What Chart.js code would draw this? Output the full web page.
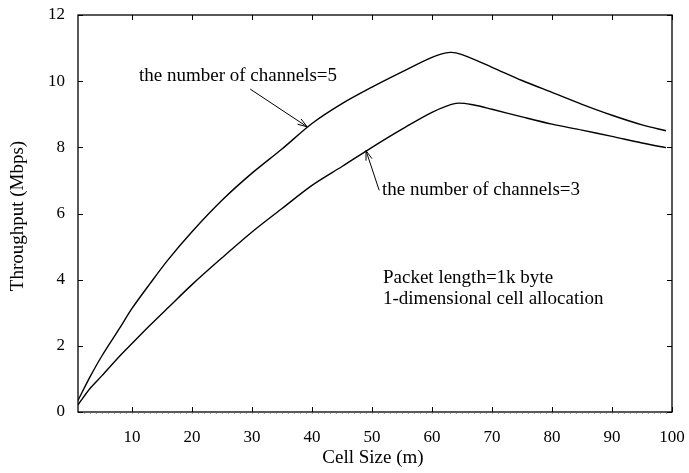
<!DOCTYPE html>
<html>
<head>
<meta charset="utf-8">
<script src="https://cdn.jsdelivr.net/npm/chart.js@4/dist/chart.umd.min.js"></script>
<style>
  html, body { margin:0; padding:0; background:#fff; }
  #wrap { width:689px; height:473px; position:relative; }
</style>
</head>
<body>
<div id="wrap"><canvas id="chart"></canvas></div>
<script>
// cell size (m)
const cellSize = [1, 3, 5, 8, 10, 13, 16, 20, 25, 30, 35, 40, 45, 50, 55, 60, 63, 65, 70, 75, 80, 85, 90, 95, 99];
// throughput (Mbps)
const ch5 = [0.35, 1.06, 1.70, 2.55, 3.13, 3.88, 4.60, 5.45, 6.40, 7.22, 7.95, 8.72, 9.32, 9.82, 10.28, 10.72, 10.87, 10.80, 10.42, 10.02, 9.66, 9.30, 8.97, 8.68, 8.50];
const cellSize3 = [1, 3, 5, 8, 10, 13, 16, 20, 25, 30, 35, 40, 45, 50, 55, 60, 64, 67, 70, 75, 80, 85, 90, 95, 99];
const ch3 = [0.22, 0.71, 1.10, 1.70, 2.07, 2.62, 3.15, 3.85, 4.66, 5.44, 6.15, 6.85, 7.42, 8.00, 8.55, 9.06, 9.33, 9.28, 9.15, 8.92, 8.70, 8.52, 8.33, 8.13, 7.99];
const xTicks = [10, 20, 30, 40, 50, 60, 70, 80, 90, 100];
const yTicks = [0, 2, 4, 6, 8, 10, 12];

const FONT = "'Liberation Serif', 'DejaVu Serif', serif";

// frame, inward tick marks, tick labels, axis titles
const framePlugin = {
    id: "frame",
    afterDraw(chart){
        const {ctx, chartArea:a, scales:{x, y}} = chart;
        ctx.save();
        ctx.strokeStyle = "#000";
        ctx.lineWidth = 1.3;
        ctx.strokeRect(a.left, a.top, a.right - a.left, a.bottom - a.top);

        ctx.lineWidth = 1;
        ctx.beginPath();
        xTicks.forEach(v=>{
            const px = Math.round(x.getPixelForValue(v)) + 0.5;
            ctx.moveTo(px, a.bottom); ctx.lineTo(px, a.bottom - 5);
            ctx.moveTo(px, a.top); ctx.lineTo(px, a.top + 5);
        });
        yTicks.forEach(v=>{
            const py = Math.round(y.getPixelForValue(v)) + 0.5;
            ctx.moveTo(a.left, py); ctx.lineTo(a.left + 5, py);
            ctx.moveTo(a.right, py); ctx.lineTo(a.right - 5, py);
        });
        ctx.stroke();

        ctx.strokeStyle = "#aaa";
        ctx.beginPath();
        for(let v = 2; v < 100; v++){
            const px = Math.round(x.getPixelForValue(v)) + 0.5;
            ctx.moveTo(px, a.bottom + 1); ctx.lineTo(px, a.bottom + 2);
        }
        ctx.stroke();

        ctx.fillStyle = "#000";
        ctx.font = "17px " + FONT;
        ctx.textBaseline = "middle";
        ctx.textAlign = "center";
        xTicks.forEach(v=>ctx.fillText(String(v), x.getPixelForValue(v), a.bottom + 26));
        ctx.textAlign = "right";
        yTicks.forEach(v=>ctx.fillText(String(v), a.left - 13, y.getPixelForValue(v)));

        ctx.font = "19px " + FONT;
        ctx.textAlign = "center";
        ctx.fillText("Cell Size (m)", (a.left + a.right)/2 - 2, 458);
        ctx.translate(18, 216);
        ctx.rotate(-Math.PI/2);
        ctx.fillText("Throughput (Mbps)", 0, 0);
        ctx.restore();
    }
};

function arrow(ctx, x1, y1, x2, y2){
    const ang = Math.atan2(y2 - y1, x2 - x1);
    const h = 10;
    ctx.beginPath();
    ctx.moveTo(x1, y1);
    ctx.lineTo(x2, y2);
    ctx.moveTo(x2 - h*Math.cos(ang - 0.32), y2 - h*Math.sin(ang - 0.32));
    ctx.lineTo(x2, y2);
    ctx.lineTo(x2 - h*Math.cos(ang + 0.32), y2 - h*Math.sin(ang + 0.32));
    ctx.stroke();
}

const notesPlugin = {
    id: "notes",
    afterDraw(chart){
        const {ctx, scales:{x, y}} = chart;
        const X = v=>x.getPixelForValue(v), Y = v=>y.getPixelForValue(v);
        ctx.save();
        ctx.fillStyle = "#000";
        ctx.strokeStyle = "#000";
        ctx.lineWidth = 1;
        ctx.font = "19px " + FONT;
        ctx.textBaseline = "middle";
        ctx.textAlign = "left";

        ctx.fillText("the number of channels=5", 139, 76);
        arrow(ctx, X(29.7), Y(9.76), X(39.2), Y(8.62));

        ctx.fillText("the number of channels=3", 382, 190);
        arrow(ctx, X(51.2), Y(6.7), X(49.0), Y(7.9));

        ctx.fillText("Packet length=1k byte", 383, 278);
        ctx.fillText("1-dimensional cell allocation", 383, 299);
        ctx.restore();
    }
};

const ctx = document.getElementById("chart").getContext("2d");

new Chart(ctx,{
    type:"line",
    data:{
        datasets:[
            {
                label:"channels=5",
                data:cellSize.map((c,i)=>({x:c, y:ch5[i]})),
                borderColor:"#000",
                borderWidth:1.4,
                pointRadius:0,
                tension:0.3,
                fill:false
            },
            {
                label:"channels=3",
                data:cellSize3.map((c,i)=>({x:c, y:ch3[i]})),
                borderColor:"#000",
                borderWidth:1.4,
                pointRadius:0,
                tension:0.3,
                fill:false
            }
        ]
    },
    options:{
        responsive:true,
        maintainAspectRatio:false,
        animation:false,
        layout:{padding:{top:15, right:17, left:0, bottom:0}},
        plugins:{legend:{display:false}, tooltip:{enabled:false}},
        scales:{
            x:{
                type:"linear",
                min:1,
                max:100,
                afterFit:s=>{ s.height = 61; },
                grid:{display:false, drawTicks:false},
                border:{display:false},
                ticks:{display:false}
            },
            y:{
                min:0,
                max:12,
                afterFit:s=>{ s.width = 78; },
                grid:{display:false, drawTicks:false},
                border:{display:false},
                ticks:{display:false}
            }
        }
    },
    plugins:[framePlugin, notesPlugin]
});
</script>
</body>
</html>
